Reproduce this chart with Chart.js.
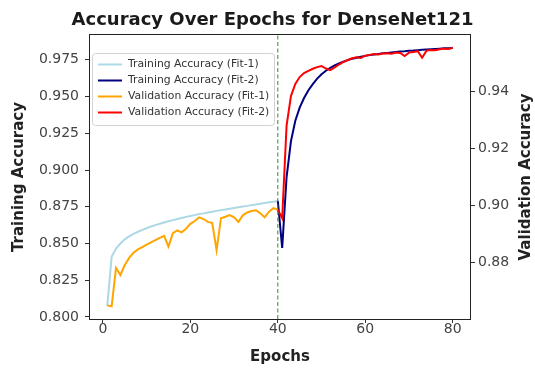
<!DOCTYPE html>
<html><head><meta charset="utf-8">
<script src="https://cdn.jsdelivr.net/npm/chart.js@4.4.1/dist/chart.umd.min.js"></script>
<style>html,body{margin:0;padding:0;background:#fff;}canvas{display:block;}</style>
</head><body>
<canvas id="c" width="535" height="372"></canvas>
<script>
// ---- data ----
const epochsFit1 = [1,2,3,4,5,6,7,8,9,10,11,12,13,14,15,16,17,18,19,20,21,22,23,24,25,26,27,28,29,30,31,32,33,34,35,36,37,38,39,40];
const epochsFit2 = [40,41,42,43,44,45,46,47,48,49,50,51,52,53,54,55,56,57,58,59,60,61,62,63,64,65,66,67,68,69,70,71,72,73,74,75,76,77,78,79,80];
const trainFit1 = [0.8074,0.8410,0.8465,0.8500,0.8528,0.8548,0.8566,0.8580,0.8593,0.8604,0.8616,0.8625,0.8634,0.8643,0.8651,0.8659,0.8667,0.8674,0.8681,0.8687,0.8693,0.8700,0.8705,0.8711,0.8716,0.8722,0.8727,0.8732,0.8737,0.8742,0.8747,0.8752,0.8756,0.8761,0.8766,0.8770,0.8775,0.8780,0.8784,0.8790];
const valFit1 = [0.8648,0.8645,0.8780,0.8755,0.8790,0.8815,0.8833,0.8845,0.8853,0.8862,0.8870,0.8878,0.8886,0.8893,0.8855,0.8902,0.8912,0.8905,0.8918,0.8935,0.8945,0.8958,0.8952,0.8942,0.8938,0.8842,0.8955,0.8960,0.8966,0.8958,0.8942,0.8965,0.8975,0.8980,0.8983,0.8972,0.8958,0.8978,0.8990,0.8985];
const trainFit2 = [0.8790,0.8470,0.8950,0.9195,0.9335,0.9425,0.9490,0.9543,0.9585,0.9622,0.9652,0.9676,0.9696,0.9712,0.9726,0.9738,0.9748,0.9757,0.9764,0.9771,0.9777,0.9782,0.9786,0.9790,0.9794,0.9797,0.9800,0.9803,0.9806,0.9808,0.9811,0.9813,0.9816,0.9818,0.9820,0.9822,0.9824,0.9826,0.9828,0.9829,0.9831];
const valFit2 = [0.8985,0.8955,0.9280,0.9385,0.9428,0.9452,0.9466,0.9474,0.9481,0.9487,0.9491,0.9482,0.9476,0.9486,0.9496,0.9505,0.9512,0.9518,0.9522,0.9519,0.9527,0.9530,0.9533,0.9531,0.9535,0.9536,0.9534,0.9538,0.9537,0.9526,0.9538,0.9540,0.9543,0.9520,0.9545,0.9547,0.9546,0.9550,0.9552,0.9551,0.9555];
const xTicks = [0,20,40,60,80];
const leftTicks = [0.800,0.825,0.850,0.875,0.900,0.925,0.950,0.975];
const rightTicks = [0.88,0.90,0.92,0.94];
const dividerEpoch = 40;
const xMin = -2.95, xMax = 83.95;
const leftMin = 0.7986, leftMax = 0.9919;
const rightMin = 0.86, rightMax = 0.96;
const seriesLabels = ['Training Accuracy (Fit-1)','Training Accuracy (Fit-2)','Validation Accuracy (Fit-1)','Validation Accuracy (Fit-2)'];
const titleText = 'Accuracy Over Epochs for DenseNet121';

const FONT = 'DejaVu Sans';
const pts = (xs, ys) => xs.map((x, i) => ({x: x, y: ys[i]}));

const framePlugin = {
  id: 'frame',
  afterDatasetsDraw(chart) {
    const {ctx, chartArea: a} = chart;
    ctx.save();
    ctx.strokeStyle = '#222';
    ctx.lineWidth = 1;
    ctx.strokeRect(Math.round(a.left) - 0.5, Math.round(a.top) - 0.5, Math.round(a.right - a.left) + 1, Math.round(a.bottom - a.top) + 1);
    ctx.restore();
  }
};

const legendPlugin = {
  id: 'boxLegend',
  afterDraw(chart) {
    const {ctx, chartArea: a} = chart;
    const items = chart.data.datasets.filter(d => !d.hideInLegend);
    const x0 = a.left + 2, y0 = a.top + 18, w = 182, rowH = 16;
    const h = items.length * rowH + 8;
    ctx.save();
    ctx.beginPath();
    ctx.roundRect(x0 + 0.5, y0 + 0.5, w, h, 3);
    ctx.fillStyle = 'rgba(255,255,255,0.8)';
    ctx.fill();
    ctx.strokeStyle = '#d2d2d2';
    ctx.lineWidth = 1;
    ctx.stroke();
    ctx.font = '10.8px "' + FONT + '"';
    ctx.textBaseline = 'middle';
    ctx.textAlign = 'left';
    items.forEach((d, i) => {
      const cy = y0 + 11.5 + i * rowH;
      ctx.beginPath();
      ctx.moveTo(x0 + 6, cy);
      ctx.lineTo(x0 + 30, cy);
      ctx.strokeStyle = d.borderColor;
      ctx.lineWidth = 2;
      ctx.stroke();
      ctx.fillStyle = '#333';
      ctx.fillText(d.label, x0 + 36, cy);
    });
    ctx.restore();
  }
};

const rightTitlePlugin = {
  id: 'rightTitle',
  afterDraw(chart) {
    const {ctx, chartArea: a} = chart;
    ctx.save();
    ctx.translate(chart.width - 9, (a.top + a.bottom) / 2);
    ctx.rotate(-Math.PI / 2);
    ctx.font = 'bold 15px "' + FONT + '"';
    ctx.fillStyle = '#222';
    ctx.textAlign = 'center';
    ctx.textBaseline = 'middle';
    ctx.fillText('Validation Accuracy', 0, 0);
    ctx.restore();
  }
};

const tickGrid = (len) => ({display: true, drawOnChartArea: false, drawTicks: true, tickLength: len, tickWidth: 1, tickColor: '#333'});

new Chart(document.getElementById('c'), {
  type: 'line',
  data: {
    datasets: [
      {label: seriesLabels[0], data: pts(epochsFit1, trainFit1), yAxisID: 'y', borderColor: '#ADD8E6', borderWidth: 2, pointRadius: 0, tension: 0, order: 4},
      {label: seriesLabels[1], data: pts(epochsFit2, trainFit2), yAxisID: 'y', borderColor: '#000080', borderWidth: 2, pointRadius: 0, tension: 0, order: 3},
      {label: seriesLabels[2], data: pts(epochsFit1, valFit1), yAxisID: 'y1', borderColor: '#FFA500', borderWidth: 2, pointRadius: 0, tension: 0, order: 2},
      {label: seriesLabels[3], data: pts(epochsFit2, valFit2), yAxisID: 'y1', borderColor: '#FF0000', borderWidth: 2, pointRadius: 0, tension: 0, order: 1},
      {label: 'divider', hideInLegend: true, data: [{x: dividerEpoch, y: leftMin}, {x: dividerEpoch, y: leftMax}], yAxisID: 'y', borderColor: '#2e8b2e', borderWidth: 1, borderDash: [4, 2.5], pointRadius: 0, order: 0}
    ]
  },
  options: {
    responsive: false,
    animation: false,
    devicePixelRatio: 1,
    layout: {padding: {left: 10, right: 0, top: 0, bottom: 0}},
    plugins: {
      legend: {display: false},
      tooltip: {enabled: false},
      title: {display: true, text: titleText, color: '#1a1a1a', font: {family: FONT, size: 18, weight: 'bold'}, padding: {top: 9.2, bottom: 4.2}}
    },
    scales: {
      x: {
        type: 'linear', min: xMin, max: xMax,
        afterBuildTicks: s => { s.ticks = xTicks.map(v => ({value: v})); },
        ticks: {autoSkip: false, maxRotation: 0, padding: -1, color: '#444', font: {family: FONT, size: 14, lineHeight: 1}, callback: v => String(v)},
        grid: tickGrid(4),
        border: {display: false},
        title: {display: true, text: 'Epochs', color: '#222', font: {family: FONT, size: 15, weight: 'bold'}, padding: {top: 0, bottom: 6}},
        afterFit: s => { s.height = 53; }
      },
      y: {
        type: 'linear', position: 'left', min: leftMin, max: leftMax,
        afterBuildTicks: s => { s.ticks = leftTicks.map(v => ({value: v})); },
        ticks: {autoSkip: false, padding: 6, color: '#444', font: {family: FONT, size: 14}, callback: v => v.toFixed(3)},
        grid: tickGrid(5),
        border: {display: false},
        title: {display: true, text: 'Training Accuracy', color: '#222', font: {family: FONT, size: 15, weight: 'bold'}, padding: {top: 0, bottom: 0}},
        afterFit: s => { s.width = 80; }
      },
      y1: {
        type: 'linear', position: 'right', min: rightMin, max: rightMax,
        afterBuildTicks: s => { s.ticks = rightTicks.map(v => ({value: v})); },
        ticks: {autoSkip: false, padding: 3, color: '#444', font: {family: FONT, size: 14}, callback: v => v.toFixed(2)},
        grid: tickGrid(5),
        border: {display: false},
        title: {display: false},
        afterFit: s => { s.width = 65; }
      }
    }
  },
  plugins: [framePlugin, legendPlugin, rightTitlePlugin]
});
</script>
</body></html>
